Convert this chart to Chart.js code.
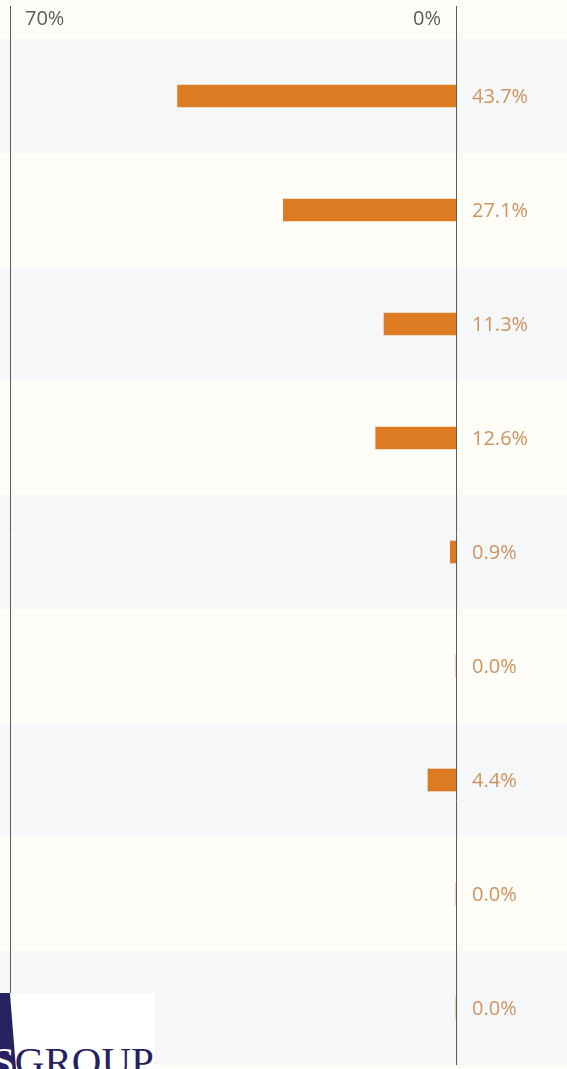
<!DOCTYPE html>
<html>
<head>
<meta charset="utf-8">
<script src="https://cdn.jsdelivr.net/npm/chart.js"></script>
<style>
  html, body { margin: 0; padding: 0; background: #fefdf8; overflow: hidden; }
  #wrap { position: relative; width: 567px; height: 1069px; }
  #logo { position: absolute; left: 0; top: 993px; width: 155px; height: 76px; background: #ffffff; overflow: hidden; }
  #logo .mark { position: absolute; left: 0; top: 0; width: 16px; height: 76px; background: #26215f; clip-path: polygon(0 0, 62% 0, 100% 100%, 0 100%); }
  #logo .txt { position: absolute; left: -8px; top: 48px; font-family: "Liberation Serif", serif; font-size: 41px; line-height: 41px; color: #26215f; white-space: nowrap; }
  #logo .txt span { color: #ffffff; }
</style>
</head>
<body>
<div id="wrap">
  <canvas id="barChart" width="567" height="1069"></canvas>
  <div id="logo"><div class="mark"></div><div class="txt"><span>S</span>GROUP</div></div>
</div>
<script>
// valores por fila (de arriba a abajo)
const categories = ['A', 'B', 'C', 'D', 'E', 'F', 'G', 'H', 'I'];
const values = [43.7, 27.1, 11.3, 12.6, 0.9, 0.0, 4.4, 0.0, 0.0];
const axisTicks = [70, 0];

const bandColors = ['#f6f7f9', '#fefdf8'];

// fondo de franjas + lineas + textos
const decor = {
    id: 'decor',
    beforeDatasetsDraw(chart) {
        const ctx = chart.ctx;
        const y = chart.scales.y;
        const area = chart.chartArea;
        const step = (area.bottom - area.top) / categories.length;
        ctx.save();
        categories.forEach((c, i) => {
            ctx.fillStyle = bandColors[i % 2];
            ctx.fillRect(0, y.getPixelForValue(i) - step / 2, chart.width, step);
        });
        ctx.restore();
    },
    afterDatasetsDraw(chart) {
        const ctx = chart.ctx;
        const x = chart.scales.x;
        const y = chart.scales.y;
        const area = chart.chartArea;
        ctx.save();
        ctx.strokeStyle = '#5a5a5a';
        ctx.lineWidth = 1;
        axisTicks.forEach(v => {
            const px = Math.round(x.getPixelForValue(v)) + 0.5;
            ctx.beginPath();
            ctx.moveTo(px, 6);
            ctx.lineTo(px, area.bottom);
            ctx.stroke();
        });
        // etiquetas del eje
        ctx.font = '20px "Open Sans"';
        ctx.fillStyle = '#5d5d5d';
        ctx.textBaseline = 'middle';
        ctx.textAlign = 'left';
        ctx.fillText(axisTicks[0] + '%', x.getPixelForValue(axisTicks[0]) + 15, 19);
        ctx.textAlign = 'right';
        ctx.fillText(axisTicks[1] + '%', x.getPixelForValue(axisTicks[1]) - 15, 19);
        // valores
        ctx.fillStyle = '#cf935f';
        ctx.textAlign = 'left';
        values.forEach((v, i) => {
            ctx.fillText(v.toFixed(1) + '%', x.getPixelForValue(0) + 16, y.getPixelForValue(i) + 1);
        });
        ctx.restore();
    }
};

const ctx = document.getElementById('barChart').getContext('2d');
new Chart(ctx, {
    type: 'bar',
    data: {
        labels: categories,
        datasets: [{
            data: values,
            backgroundColor: '#dc7b22',
            borderWidth: 0,
            barThickness: 22
        }]
    },
    options: {
        responsive: false,
        animation: false,
        indexAxis: 'y',
        layout: { padding: { left: 10, right: 111, top: 39, bottom: 4 } },
        plugins: { legend: { display: false }, tooltip: { enabled: false } },
        scales: {
            x: { display: false, reverse: true, min: 0, max: 70 },
            y: { display: false }
        }
    },
    plugins: [decor]
});
</script>
</body>
</html>
